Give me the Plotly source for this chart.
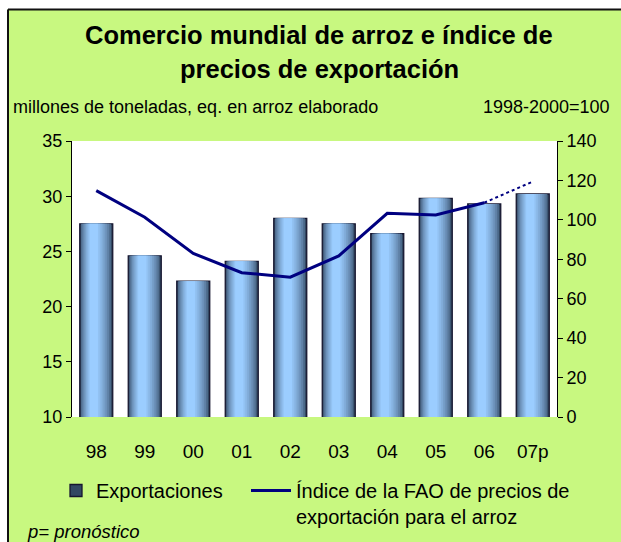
import plotly.graph_objects as go

years = ["98", "99", "00", "01", "02", "03", "04", "05", "06", "07p"]
exports = [27.5, 24.6, 22.3, 24.1, 28.0, 27.5, 26.6, 29.8, 29.3, 30.2]
price_index = [114.8, 101.3, 83.0, 73.2, 70.9, 81.7, 103.3, 102.5, 108.7]
price_years = years[:9]
forecast_years = ["06", "07p"]
forecast_index = [108.7, 119.4]

W, H = 621, 542
L, R, T, B = 72, 64, 141, 125
PW, PH = W - L - R, H - T - B

def px(x):
    return (x - L) / PW

def py(y):
    return (H - B - y) / PH

GREEN = "#c8f880"
FONT = "Liberation Sans, Arial, sans-serif"

fig = go.Figure()

# gradient bars (overlaid layers)
n = 9
dark = (50, 72, 98)
light = (155, 205, 255)
for i in range(n):
    f = i / (n - 1)
    f2 = f ** 0.6
    c = tuple(int(dark[k] + (light[k] - dark[k]) * f2) for k in range(3))
    width = 0.68 * (1 - f * 0.75)
    center = -0.05 * f
    fig.add_trace(go.Bar(
        x=years, y=exports,
        width=width, offset=center - width / 2,
        marker=dict(color="rgb(%d,%d,%d)" % c,
                    line=dict(color="#161630", width=1.3 if i == 0 else 0)),
        name="Exportaciones",
        showlegend=(i == 0),
        legend="legend",
        hoverinfo="skip" if i else None,
    ))

fig.add_trace(go.Scatter(
    x=price_years, y=price_index, yaxis="y2", mode="lines",
    line=dict(color="#000080", width=3),
    name="Índice de la FAO de precios de<br>exportación para el arroz",
    legend="legend2",
))
fig.add_trace(go.Scatter(
    x=forecast_years, y=forecast_index, yaxis="y2", mode="lines",
    line=dict(color="#000080", width=2, dash="dot"),
    showlegend=False,
))

shapes = [
    dict(type="rect", xref="paper", yref="paper", x0=px(-5), x1=px(7.5), y0=py(H + 5), y1=py(-5),
         fillcolor="white", line=dict(width=0), layer="below"),
    dict(type="rect", xref="paper", yref="paper", x0=px(-5), x1=px(W + 5), y0=py(9), y1=py(-5),
         fillcolor="white", line=dict(width=0), layer="below"),
    dict(type="line", xref="paper", yref="paper", x0=px(8), x1=px(W + 5), y0=py(9.5), y1=py(9.5),
         line=dict(color="#111111", width=2)),
    dict(type="line", xref="paper", yref="paper", x0=px(8), x1=px(8), y0=py(9.5), y1=py(H + 5),
         line=dict(color="#111111", width=2)),
]

annotations = [
    dict(text="<b>Comercio mundial de arroz e índice de</b>", x=px(319), y=py(35), xref="paper", yref="paper",
         showarrow=False, font=dict(size=25.5, color="black", family=FONT), xanchor="center", yanchor="middle"),
    dict(text="<b>precios de exportación</b>", x=px(319), y=py(69), xref="paper", yref="paper",
         showarrow=False, font=dict(size=25.5, color="black", family=FONT), xanchor="center", yanchor="middle"),
    dict(text="millones de toneladas, eq. en arroz elaborado", x=px(11), y=py(107), xref="paper", yref="paper",
         showarrow=False, font=dict(size=18, color="black", family=FONT), xanchor="left", yanchor="middle"),
    dict(text="1998-2000=100", x=px(612), y=py(107), xref="paper", yref="paper",
         showarrow=False, font=dict(size=18, color="black", family=FONT), xanchor="right", yanchor="middle"),
    dict(text="<i>p= pronóstico</i>", x=px(25), y=py(531), xref="paper", yref="paper",
         showarrow=False, font=dict(size=18.5, color="black", family=FONT), xanchor="left", yanchor="middle"),
]

fig.update_layout(
    width=W, height=H,
    margin=dict(l=L, r=R, t=T, b=B, pad=0, autoexpand=False),
    paper_bgcolor=GREEN, plot_bgcolor="white",
    barmode="overlay",
    font=dict(family=FONT, size=18, color="black"),
    shapes=shapes, annotations=annotations,
    showlegend=True,
    legend=dict(orientation="h", x=px(56), xanchor="left", y=py(471), yanchor="top",
                bgcolor="rgba(0,0,0,0)", font=dict(size=20, family=FONT), valign="top"),
    legend2=dict(orientation="h", x=px(246), xanchor="left", y=py(471), yanchor="top",
                 bgcolor="rgba(0,0,0,0)", font=dict(size=20, family=FONT), valign="top",
                 itemwidth=40),
    xaxis=dict(type="category", categoryorder="array", categoryarray=years,
               showline=False, showgrid=False, ticks="", ticklabelstandoff=21,
               tickfont=dict(size=19)),
    yaxis=dict(range=[10, 35], dtick=5, showgrid=False, showline=True, linecolor="black", linewidth=1,
               ticks="outside", ticklen=5, tickcolor="black", zeroline=False, tickfont=dict(size=18)),
    yaxis2=dict(range=[0, 140], dtick=20, overlaying="y", side="right", showgrid=False, showline=True,
                linecolor="black", linewidth=1, ticks="outside", ticklen=5, tickcolor="black",
                zeroline=False, tickfont=dict(size=18)),
)

fig.write_html("out.html", config={"displayModeBar": False},
               post_script="document.body.style.margin='0';document.body.style.overflow='hidden';")
